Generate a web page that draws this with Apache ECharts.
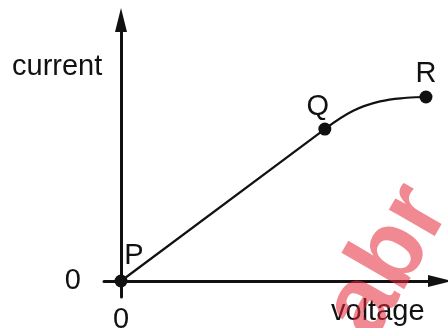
<!DOCTYPE html>
<html>
<head>
<meta charset="utf-8">
<script src="https://cdn.jsdelivr.net/npm/echarts@6/dist/echarts.min.js"></script>
<style>
  html, body { margin: 0; padding: 0; background: #fff; }
  #chart { width: 448px; height: 328px; }
</style>
</head>
<body>
<div id="chart"></div>
<script>
// points (voltage, current in arbitrary units)
var pointNames = ["P", "Q", "R"];
var pointX = [0, 6.39, 9.56];
var pointY = [0, 5.82, 7.05];
// curved part between Q and R
var curveX = [6.39, 7.28, 8.12, 8.96, 9.56];
var curveY = [5.82, 6.52, 6.88, 7.02, 7.05];
var xTicks = [0];
var yTicks = [0];

var font = "'Liberation Sans', Arial, sans-serif";
var ink = "#111";

var labelOffsets = [[13, -25], [-7, -22], [0, -23]];

var myChart = echarts.init(document.getElementById("chart"));

var option = {
  animation: false,
  grid: {
    left: 104, right: 8, top: 20, bottom: 31,
    containLabel: false,
    outerBoundsMode: "none"
  },
  xAxis: {
    type: "value",
    min: -0.533,
    max: 10,
    splitLine: { show: false },
    axisTick: { show: false },
    axisLine: {
      onZero: true,
      symbol: ["none", "triangle"],
      symbolSize: [12, 24],
      lineStyle: { color: ink, width: 3 }
    },
    axisLabel: {
      customValues: xTicks,
      margin: 8,
      color: ink,
      fontSize: 29,
      fontFamily: font,
      verticalAlign: "top"
    }
  },
  yAxis: {
    type: "value",
    min: -0.613,
    max: 10,
    splitLine: { show: false },
    axisTick: { show: false },
    axisLine: {
      onZero: true,
      symbol: ["none", "triangle"],
      symbolSize: [12, 24],
      lineStyle: { color: ink, width: 3 }
    },
    axisLabel: {
      customValues: yTicks,
      margin: 23,
      color: ink,
      fontSize: 29,
      fontFamily: font
    }
  },
  series: [
    {
      type: "line",
      data: [[pointX[0], pointY[0]], [pointX[1], pointY[1]]],
      symbol: "none",
      lineStyle: { color: ink, width: 2.2 },
      z: 2
    },
    {
      type: "line",
      data: curveX.map(function (x, i) { return [x, curveY[i]]; }),
      smooth: 0.4,
      symbol: "none",
      lineStyle: { color: ink, width: 2.2 },
      z: 2
    },
    {
      type: "scatter",
      symbolSize: 13,
      itemStyle: { color: ink, opacity: 1 },
      z: 3,
      data: pointNames.map(function (n, i) {
        return {
          name: n,
          value: [pointX[i], pointY[i]],
          label: {
            show: true,
            formatter: n,
            position: "inside",
            offset: labelOffsets[i],
            color: ink,
            opacity: 1,
            fontSize: 29,
            fontFamily: font
          }
        };
      })
    }
  ],
  graphic: [
    {
      type: "text",
      left: 12,
      top: 52,
      style: { text: "current", fill: ink, font: "29px " + font }
    },
    {
      type: "text",
      left: 331,
      top: 297,
      style: { text: "voltage", fill: ink, font: "29px " + font }
    },
    {
      type: "text",
      x: 388,
      y: 262,
      rotation: Math.PI / 3,
      z: 100,
      style: {
        text: "abr",
        fill: "rgba(228, 40, 55, 0.55)",
        font: "bold 100px " + font,
        align: "center",
        verticalAlign: "middle"
      }
    }
  ]
};

myChart.setOption(option);
</script>
</body>
</html>
